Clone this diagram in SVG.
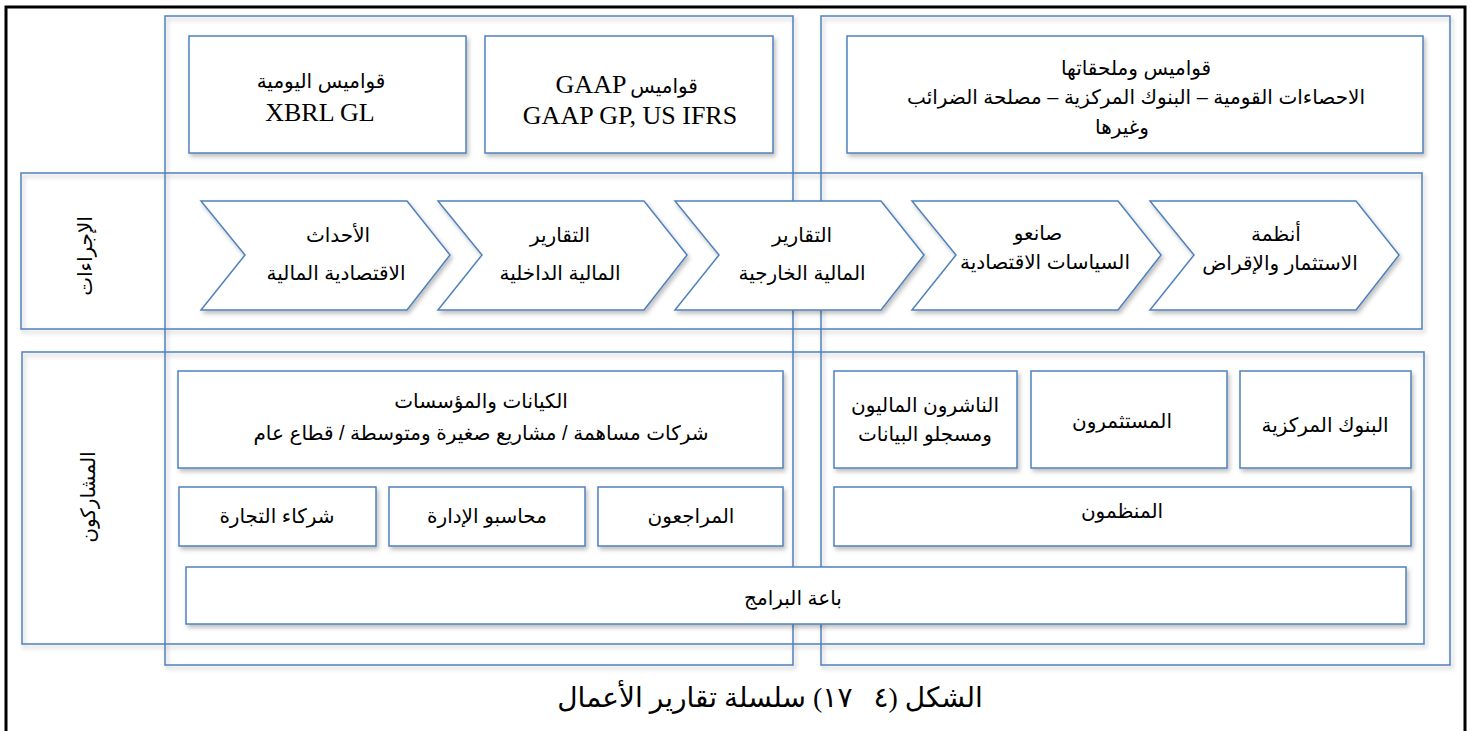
<svg xmlns="http://www.w3.org/2000/svg" width="1472" height="731" viewBox="0 0 1472 731">
<style>
.frame{fill:none;stroke:#000;stroke-width:3}
.c{fill:none;stroke:#4f81bd;stroke-width:1.5}
.b{fill:#fff;stroke:#4f81bd;stroke-width:1.5}
.t{font-family:"Liberation Sans","DejaVu Sans",sans-serif;font-size:20px;fill:#000;text-anchor:middle;direction:rtl}
.lat{font-family:"Liberation Serif","Times New Roman",serif;font-size:26px;fill:#000;text-anchor:middle}
.cap{font-family:"Liberation Serif","DejaVu Sans",serif;font-size:28px;fill:#000;text-anchor:middle;direction:rtl;white-space:pre}
</style>
<defs>
<filter id="sh" x="-10%" y="-10%" width="130%" height="140%">
<feDropShadow dx="2" dy="3" stdDeviation="2" flood-color="#000" flood-opacity="0.25"/>
</filter>
</defs>
<rect width="1472" height="731" fill="#fff"/>
<rect class="frame" x="6" y="7" width="1459" height="740"/>

<g id="containers" filter="url(#sh)">
<rect id="col-left" class="c" x="165" y="16" width="628" height="649"/>
<rect id="col-right" class="c" x="821" y="16" width="629" height="649"/>
<rect id="band-processes" class="c" x="21" y="173" width="1401" height="156"/>
<rect id="band-participants" class="c" x="22" y="352" width="1402" height="292"/>
</g>

<g id="connectors"></g>

<g id="label-processes">
<text class="t" transform="translate(85,256) rotate(-90)" x="0" y="7">الإجراءات</text>
</g>
<g id="label-participants">
<text class="t" transform="translate(88,497) rotate(-90)" x="0" y="7">المشاركون</text>
</g>

<g id="tax-xbrl">
<rect class="b" filter="url(#sh)" x="189" y="36" width="277" height="117"/>
<text class="t" x="321" y="88">قواميس اليومية</text>
<text class="lat" x="320" y="121">XBRL GL</text>
</g>
<g id="tax-gaap">
<rect class="b" filter="url(#sh)" x="485" y="36" width="288" height="117"/>
<text class="lat" x="591" y="93">GAAP</text>
<text class="t" x="664" y="93">قواميس</text>
<text class="lat" x="630" y="124">GAAP GP, US IFRS</text>
</g>
<g id="tax-others">
<rect class="b" filter="url(#sh)" x="847" y="36" width="576" height="117"/>
<text class="t" x="1136" y="75">قواميس وملحقاتها</text>
<text class="t" x="1136" y="104">الاحصاءات القومية – البنوك المركزية – مصلحة الضرائب</text>
<text class="t" x="1122" y="134">وغيرها</text>
</g>

<g id="proc-events">
<polygon class="b" filter="url(#sh)" points="201,201 407,201 450,255 407,310 201,310 245,255"/>
<text class="t" x="338" y="242">الأحداث</text>
<text class="t" x="336" y="280">الاقتصادية المالية</text>
</g>
<g id="proc-internal">
<polygon class="b" filter="url(#sh)" points="438,201 644,201 687,255 644,310 438,310 482,255"/>
<text class="t" x="560" y="242">التقارير</text>
<text class="t" x="560" y="280">المالية الداخلية</text>
</g>
<g id="proc-external">
<polygon class="b" filter="url(#sh)" points="675,201 881,201 924,255 881,310 675,310 719,255"/>
<text class="t" x="802" y="242">التقارير</text>
<text class="t" x="802" y="280">المالية الخارجية</text>
</g>
<g id="proc-policy">
<polygon class="b" filter="url(#sh)" points="912,201 1118,201 1161,255 1118,310 912,310 956,255"/>
<text class="t" x="1038" y="240">صانعو</text>
<text class="t" x="1045" y="269">السياسات الاقتصادية</text>
</g>
<g id="proc-investment">
<polygon class="b" filter="url(#sh)" points="1150,201 1356,201 1399,255 1356,310 1150,310 1194,255"/>
<text class="t" x="1276" y="241">أنظمة</text>
<text class="t" x="1280" y="270">الاستثمار والإقراض</text>
</g>

<g id="p-entities">
<rect class="b" filter="url(#sh)" x="178" y="371" width="605" height="97"/>
<text class="t" x="481" y="408">الكيانات والمؤسسات</text>
<text class="t" x="481" y="440">شركات مساهمة / مشاريع صغيرة ومتوسطة / قطاع عام</text>
</g>
<g id="p-trade">
<rect class="b" filter="url(#sh)" x="179" y="487" width="197" height="59"/>
<text class="t" x="277" y="523">شركاء التجارة</text>
</g>
<g id="p-mgmt">
<rect class="b" filter="url(#sh)" x="389" y="487" width="196" height="59"/>
<text class="t" x="487" y="523">محاسبو الإدارة</text>
</g>
<g id="p-auditors">
<rect class="b" filter="url(#sh)" x="598" y="487" width="185" height="59"/>
<text class="t" x="691" y="523">المراجعون</text>
</g>
<g id="p-publishers">
<rect class="b" filter="url(#sh)" x="834" y="371" width="183" height="97"/>
<text class="t" x="925" y="412">الناشرون الماليون</text>
<text class="t" x="925" y="441">ومسجلو البيانات</text>
</g>
<g id="p-investors">
<rect class="b" filter="url(#sh)" x="1031" y="371" width="196" height="97"/>
<text class="t" x="1122" y="428">المستثمرون</text>
</g>
<g id="p-central-banks">
<rect class="b" filter="url(#sh)" x="1240" y="371" width="171" height="97"/>
<text class="t" x="1325" y="432">البنوك المركزية</text>
</g>
<g id="p-regulators">
<rect class="b" filter="url(#sh)" x="834" y="487" width="577" height="59"/>
<text class="t" x="1122" y="518">المنظمون</text>
</g>
<g id="p-vendors">
<rect class="b" filter="url(#sh)" x="186" y="567" width="1220" height="57"/>
<text class="t" x="793" y="605">باعة البرامج</text>
</g>

<g id="caption">
<text class="cap" x="770" y="707">الشكل (٤   ١٧) سلسلة تقارير الأعمال</text>
</g>
</svg>
